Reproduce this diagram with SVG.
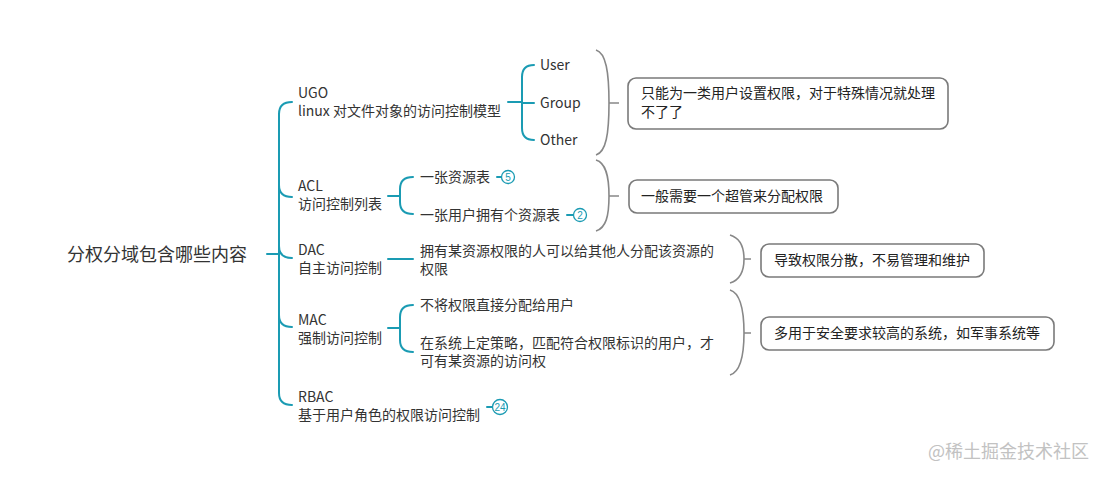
<svg xmlns="http://www.w3.org/2000/svg" width="1104" height="480" viewBox="0 0 1104 480">
<style>
text{font-family:"Noto Sans CJK SC","Noto Sans",sans-serif;font-size:14px;fill:#333}
.root{font-size:18px;fill:#333}
.c{fill:none;stroke:#1a9bb3;stroke-width:2;stroke-linecap:round}
.br{fill:none;stroke:#888;stroke-width:1.6}
.box{fill:#fff;stroke:#7a7a7a;stroke-width:1.6}
.bt{fill:#222}
.badge{fill:#fff;stroke:#1a9bb3;stroke-width:1.3}
.bn{font-size:10px;fill:#1a9bb3;font-family:"Liberation Sans",sans-serif}
.wm{font-size:18px;fill:#c2c2c2}
</style>
<rect width="1104" height="480" fill="#fff"/>
<g id="connectors">
<path class="c" d="M267 254 H279"/>
<path class="c" d="M292 102 Q279 102 279 114 V393 Q279 405 292 405"/>
<path class="c" d="M279 185 Q279 197 292 197"/>
<path class="c" d="M279 246 Q279 258 292 258"/>
<path class="c" d="M279 315 Q279 327 292 327"/>
<path class="c" d="M508 102 H522"/>
<path class="c" d="M534 65 Q522 65 522 77 V128 Q522 140 534 140"/>
<path class="c" d="M522 103 H534"/>
<path class="c" d="M388 196 H400"/>
<path class="c" d="M413 177 Q400 177 400 189 V202 Q400 214 413 214"/>
<path class="c" d="M388 259 H413"/>
<path class="c" d="M388 328 H400"/>
<path class="c" d="M413 305 Q400 305 400 317 V340 Q400 352 413 352"/>
<path class="c" d="M497 177 H501"/>
<path class="c" d="M567 215 H573"/>
<path class="c" d="M487 407 H492"/>
<path class="br" d="M596 50 C606 53 609 72 609 103 C609 134 606 152 596 155 M609 103 H619"/>
<path class="br" d="M596 160 C606 163 609 176 609 196 C609 216 606 228 596 231 M609 196 H619"/>
<path class="br" d="M730 235 C740 238 744 246 744 259 C744 272 740 280 730 283 M744 259 H751"/>
<path class="br" d="M730 290 C740 293 744 310 744 333 C744 356 740 372 730 375 M744 333 H751"/>
</g>
<g id="root"><text class="root" x="67" y="261">分权分域包含哪些内容</text></g>
<g id="ugo"><text x="298" y="98">UGO</text><text x="298" y="116">linux 对文件对象的访问控制模型</text></g>
<g id="user"><text x="540" y="70">User</text></g>
<g id="group"><text x="540" y="108">Group</text></g>
<g id="other"><text x="540" y="145">Other</text></g>
<g id="ugo-note"><rect class="box" x="628" y="78" width="320" height="51" rx="8"/><text class="bt" x="641" y="98">只能为一类用户设置权限，对于特殊情况就处理</text><text class="bt" x="641" y="117">不了了</text></g>
<g id="acl"><text x="298" y="191">ACL</text><text x="298" y="209">访问控制列表</text></g>
<g id="acl1"><text x="420" y="182">一张资源表</text><circle class="badge" cx="508" cy="177" r="6.5"/><text class="bn" x="508" y="180.6" text-anchor="middle">5</text></g>
<g id="acl2"><text x="420" y="220">一张用户拥有个资源表</text><circle class="badge" cx="580" cy="215" r="6.5"/><text class="bn" x="580" y="218.6" text-anchor="middle">2</text></g>
<g id="acl-note"><rect class="box" x="629" y="180" width="209" height="33" rx="8"/><text class="bt" x="641" y="201">一般需要一个超管来分配权限</text></g>
<g id="dac"><text x="298" y="255">DAC</text><text x="298" y="273">自主访问控制</text></g>
<g id="dac1"><text x="420" y="256">拥有某资源权限的人可以给其他人分配该资源的</text><text x="420" y="274">权限</text></g>
<g id="dac-note"><rect class="box" x="761" y="244" width="223" height="33" rx="8"/><text class="bt" x="774" y="265">导致权限分散，不易管理和维护</text></g>
<g id="mac"><text x="298" y="325">MAC</text><text x="298" y="343">强制访问控制</text></g>
<g id="mac1"><text x="420" y="310">不将权限直接分配给用户</text></g>
<g id="mac2"><text x="420" y="348">在系统上定策略，匹配符合权限标识的用户，才</text><text x="420" y="366">可有某资源的访问权</text></g>
<g id="mac-note"><rect class="box" x="761" y="317" width="293" height="33" rx="8"/><text class="bt" x="774" y="338">多用于安全要求较高的系统，如军事系统等</text></g>
<g id="rbac"><text x="298" y="402">RBAC</text><text x="298" y="420">基于用户角色的权限访问控制</text><circle class="badge" cx="500" cy="407" r="7.5"/><text class="bn" x="500" y="410.6" text-anchor="middle">24</text></g>
<text class="wm" x="928" y="458">@稀土掘金技术社区</text>
</svg>
